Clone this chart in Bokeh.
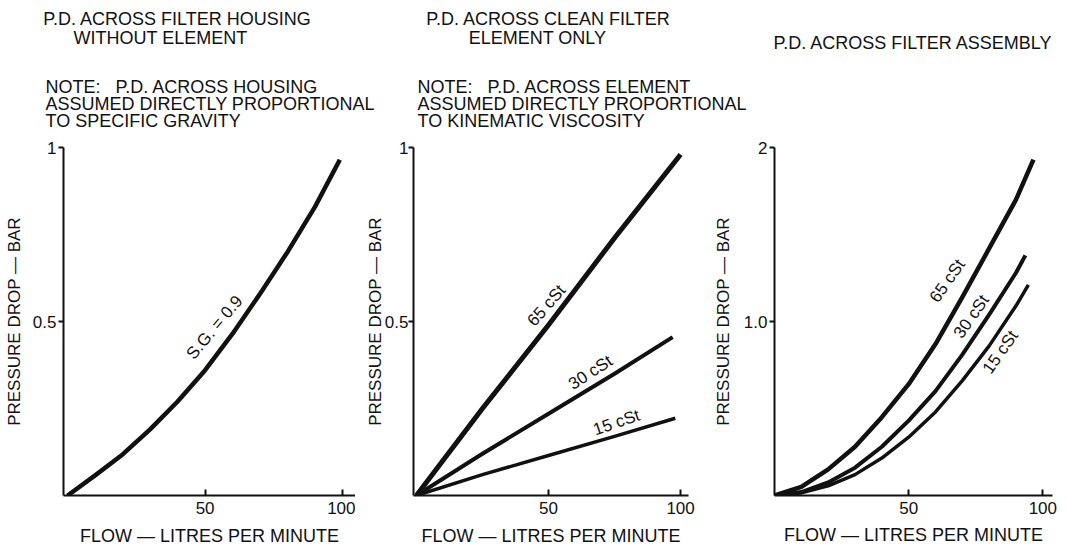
from bokeh.plotting import figure
from bokeh.layouts import row, column
from bokeh.models import Label, FixedTicker, Range1d
from bokeh.embed import file_html
from bokeh.resources import INLINE

# ---------------- data ----------------
# Panel 1: P.D. across filter housing without element
housing_flow = [0, 10, 20, 30, 40, 50, 60, 70, 80, 90, 99]
housing_pd_sg09 = [0, 0.058, 0.118, 0.19, 0.27, 0.36, 0.465, 0.58, 0.70, 0.83, 0.965]

# Panel 2: P.D. across clean filter element only
element_flow_65 = [0, 25, 50, 75, 100]
element_pd_65 = [0, 0.25, 0.49, 0.74, 0.98]
element_flow_30 = [0, 25, 50, 75, 97]
element_pd_30 = [0, 0.12, 0.235, 0.35, 0.455]
element_flow_15 = [0, 25, 50, 75, 98]
element_pd_15 = [0, 0.06, 0.115, 0.17, 0.222]

# Panel 3: P.D. across filter assembly
assembly_flow_65 = [0, 10, 20, 30, 40, 50, 60, 70, 80, 90, 96.5]
assembly_pd_65 = [0, 0.05, 0.15, 0.28, 0.45, 0.64, 0.87, 1.14, 1.42, 1.70, 1.93]
assembly_flow_30 = [0, 10, 20, 30, 40, 50, 60, 70, 80, 90, 93.5]
assembly_pd_30 = [0, 0.02, 0.075, 0.16, 0.28, 0.43, 0.60, 0.81, 1.04, 1.28, 1.38]
assembly_flow_15 = [0, 10, 20, 30, 40, 50, 60, 70, 80, 90, 94.6]
assembly_pd_15 = [0, 0.015, 0.055, 0.12, 0.215, 0.335, 0.48, 0.66, 0.86, 1.09, 1.21]

x_ticks = [50, 100]
x_tick_labels = ["50", "100"]
y_ticks_1 = [0.5, 1.0]
y_tick_labels_1 = ["0.5", "1"]
y_ticks_3 = [1.0, 2.0]
y_tick_labels_3 = ["1.0", "2"]

series_labels = ["65 cSt", "30 cSt", "15 cSt"]
x_title = "FLOW \u2014 LITRES PER MINUTE"
y_title = "PRESSURE DROP \u2014 BAR"

FONT = "Liberation Sans"
INK = "#111111"
NB = "\u00a0"
TOP_H = 132  # height of the text strip above the three charts

# ---------------- text strip with the titles and notes ----------------
head = figure(width=1067, height=TOP_H, x_range=Range1d(0, 1067), y_range=Range1d(TOP_H, 0),
              output_backend="svg", toolbar_location=None,
              x_axis_type=None, y_axis_type=None, min_border=0)
head.outline_line_color = None
head.grid.visible = False


def head_text(px, py, s, align="left"):
    head.add_layout(Label(x=px, y=py, text=s, text_font=FONT, text_font_size="18px",
                          text_color=INK, text_align=align, text_baseline="middle"))


head_text(177, 18, "P.D. ACROSS FILTER HOUSING", "center")
head_text(160, 37, "WITHOUT ELEMENT", "center")
head_text(45, 86, "NOTE:" + NB * 3 + "P.D. ACROSS HOUSING")
head_text(45, 103, "ASSUMED DIRECTLY PROPORTIONAL")
head_text(45, 120, "TO SPECIFIC GRAVITY")
head_text(548, 18, "P.D. ACROSS CLEAN FILTER", "center")
head_text(537, 37, "ELEMENT ONLY", "center")
head_text(417, 86, "NOTE:" + NB * 3 + "P.D. ACROSS ELEMENT")
head_text(417, 103, "ASSUMED DIRECTLY PROPORTIONAL")
head_text(417, 120, "TO KINEMATIC VISCOSITY")
head_text(913, 42, "P.D. ACROSS FILTER ASSEMBLY", "center")


def make_panel(width, page_left, frame, xr, yr, yticks, ylabels, ylab_standoff,
               ytick_standoff, xlab_standoff):
    L, T, R, B = frame  # page pixel coordinates of the plot frame
    p = figure(width=width, height=548 - TOP_H, x_range=Range1d(*xr), y_range=Range1d(*yr),
               output_backend="svg", toolbar_location=None,
               min_border_left=L - page_left, min_border_right=page_left + width - R,
               min_border_top=T - TOP_H, min_border_bottom=548 - B)
    p.outline_line_color = None
    p.grid.visible = False
    p.background_fill_color = "white"
    p.border_fill_color = "white"
    for ax in (p.xaxis[0], p.yaxis[0]):
        ax.axis_line_width = 2
        ax.axis_line_color = INK
        ax.major_tick_line_width = 2
        ax.major_tick_line_color = INK
        ax.minor_tick_line_color = None
        ax.major_label_text_font = FONT
        ax.major_label_text_font_size = "17px"
        ax.major_label_text_color = INK
        ax.axis_label_text_font = FONT
        ax.axis_label_text_font_style = "normal"
        ax.axis_label_text_color = INK
    p.xaxis.ticker = FixedTicker(ticks=x_ticks)
    p.xaxis.major_label_overrides = dict(zip(x_ticks, x_tick_labels))
    p.xaxis.major_tick_in = 6
    p.xaxis.major_tick_out = 0
    p.xaxis.major_label_standoff = 6
    p.xaxis.axis_label = x_title
    p.xaxis.axis_label_text_font_size = "18px"
    p.xaxis.axis_label_standoff = xlab_standoff
    p.yaxis.ticker = FixedTicker(ticks=yticks)
    p.yaxis.major_label_overrides = dict(zip(yticks, ylabels))
    p.yaxis.major_tick_in = 0
    p.yaxis.major_tick_out = 5
    p.yaxis.major_label_standoff = ytick_standoff
    p.yaxis.axis_label = y_title
    p.yaxis.axis_label_text_font_size = "17px"
    p.yaxis.axis_label_standoff = ylab_standoff

    def text(px, py, s, angle):
        x = xr[0] + (px - L) / (R - L) * (xr[1] - xr[0])
        y = yr[0] + (B - py) / (B - T) * (yr[1] - yr[0])
        p.add_layout(Label(x=x, y=y, text=s, text_font=FONT, text_font_size="17px",
                           text_color=INK, text_align="center", text_baseline="middle",
                           angle=angle, angle_units="deg"))
    return p, text


def curve(p, xs, ys, w):
    p.line(xs, ys, line_width=w, line_color=INK, line_join="round", line_cap="butt")


# ---------------- panel 1 ----------------
p1, t1 = make_panel(355, 0, (63, 141, 355, 495), (-1.5, 104.7), (0, 1.0),
                    y_ticks_1, y_tick_labels_1, 6, 2, 9)
curve(p1, housing_flow, housing_pd_sg09, 4.5)
t1(214, 324, "S.G. = 0.9", 50)

# ---------------- panel 2 ----------------
p2, t2 = make_panel(355, 355, (413, 147, 688, 495), (-1.1, 103.0), (0, 1.0),
                    y_ticks_1, y_tick_labels_1, -3, 0, 9)
curve(p2, element_flow_65, element_pd_65, 5)
curve(p2, element_flow_30, element_pd_30, 4)
curve(p2, element_flow_15, element_pd_15, 3.5)
t2(546, 305, series_labels[0], 49)
t2(590, 372, series_labels[1], 33)
t2(616, 422, series_labels[2], 19)

# ---------------- panel 3 ----------------
p3, t3 = make_panel(357, 710, (764, 145, 1052, 497), (0, 103.6), (0, 2.0),
                    y_ticks_3, y_tick_labels_3, 8, 2, 8)
curve(p3, assembly_flow_65, assembly_pd_65, 4.5)
curve(p3, assembly_flow_30, assembly_pd_30, 4)
curve(p3, assembly_flow_15, assembly_pd_15, 3.5)
t3(943, 280, series_labels[0], 55)
t3(968, 316, series_labels[1], 55)
t3(998, 352, series_labels[2], 55)

layout = column(head, row(p1, p2, p3))
open("out.html", "w").write(file_html(layout, INLINE))
